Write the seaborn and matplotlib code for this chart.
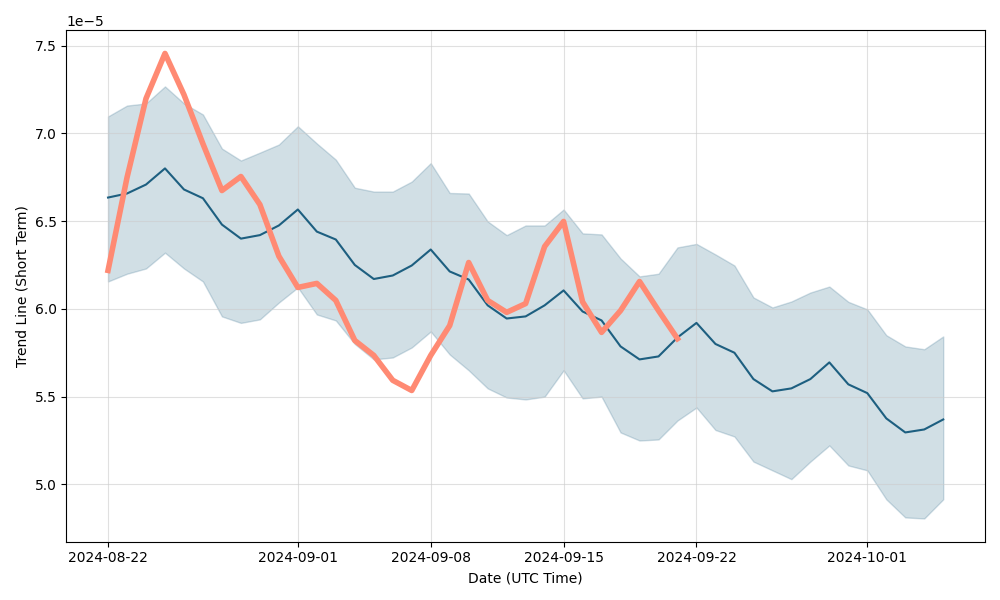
import pandas as pd
import numpy as np
import matplotlib
matplotlib.use("Agg")
import matplotlib.pyplot as plt
import seaborn as sns

# values in units of 1e-5
trend_mean = [6.634, 6.657, 6.708, 6.80, 6.68, 6.63, 6.48, 6.40, 6.42, 6.475,
              6.566, 6.44, 6.395, 6.25, 6.17, 6.19, 6.247, 6.338, 6.213, 6.167,
              6.02, 5.945, 5.957, 6.02, 6.105, 5.985, 5.934, 5.786, 5.712, 5.729,
              5.837, 5.92, 5.80, 5.75, 5.60, 5.53, 5.547, 5.60, 5.695, 5.57,
              5.52, 5.376, 5.296, 5.313, 5.37]
trend_upper = [7.096, 7.158, 7.17, 7.267, 7.17, 7.107, 6.913, 6.845, 6.89, 6.936,
               7.04, 6.942, 6.85, 6.69, 6.668, 6.668, 6.725, 6.83, 6.66, 6.657,
               6.498, 6.42, 6.475, 6.475, 6.566, 6.43, 6.424, 6.287, 6.185, 6.20,
               6.35, 6.37, 6.31, 6.247, 6.065, 6.008, 6.042, 6.093, 6.127, 6.04,
               5.997, 5.85, 5.786, 5.77, 5.843]
trend_lower = [6.156, 6.20, 6.23, 6.32, 6.23, 6.156, 5.957, 5.92, 5.94, 6.036,
               6.122, 5.968, 5.934, 5.80, 5.712, 5.723, 5.78, 5.871, 5.74, 5.65,
               5.547, 5.495, 5.484, 5.50, 5.65, 5.49, 5.50, 5.296, 5.25, 5.256,
               5.364, 5.438, 5.31, 5.273, 5.13, 5.08, 5.03, 5.13, 5.222, 5.108,
               5.08, 4.915, 4.812, 4.806, 4.915]
actual = [6.219, 6.748, 7.198, 7.455, 7.22, 6.94, 6.674, 6.754, 6.594, 6.30,
          6.122, 6.145, 6.048, 5.82, 5.735, 5.593, 5.535, 5.735, 5.905, 6.264,
          6.048, 5.98, 6.03, 6.355, 6.498, 6.04, 5.866, 5.99, 6.156, 5.99, 5.83]

dates = pd.date_range("2024-08-22", periods=len(trend_mean), freq="D")
trend = pd.DataFrame({
    "date": dates,
    "mean": np.array(trend_mean) * 1e-5,
    "upper": np.array(trend_upper) * 1e-5,
    "lower": np.array(trend_lower) * 1e-5,
})
recent = pd.DataFrame({"date": dates[:len(actual)], "value": np.array(actual) * 1e-5})

line_color = "#1d5f80"
fig, ax = plt.subplots(figsize=(10, 6), dpi=100)
ax.fill_between(trend["date"], trend["lower"], trend["upper"],
                color=line_color, alpha=0.2)
sns.lineplot(data=trend, x="date", y="mean", color=line_color, linewidth=1.5, ax=ax)
sns.lineplot(data=recent, x="date", y="value", color="#ff8a73", linewidth=4, ax=ax)

ax.grid(True, color="#cccccc", alpha=0.6)
ax.set_xlabel("Date (UTC Time)")
ax.set_ylabel("Trend Line (Short Term)")
plt.tight_layout()
plt.savefig("out.png")
